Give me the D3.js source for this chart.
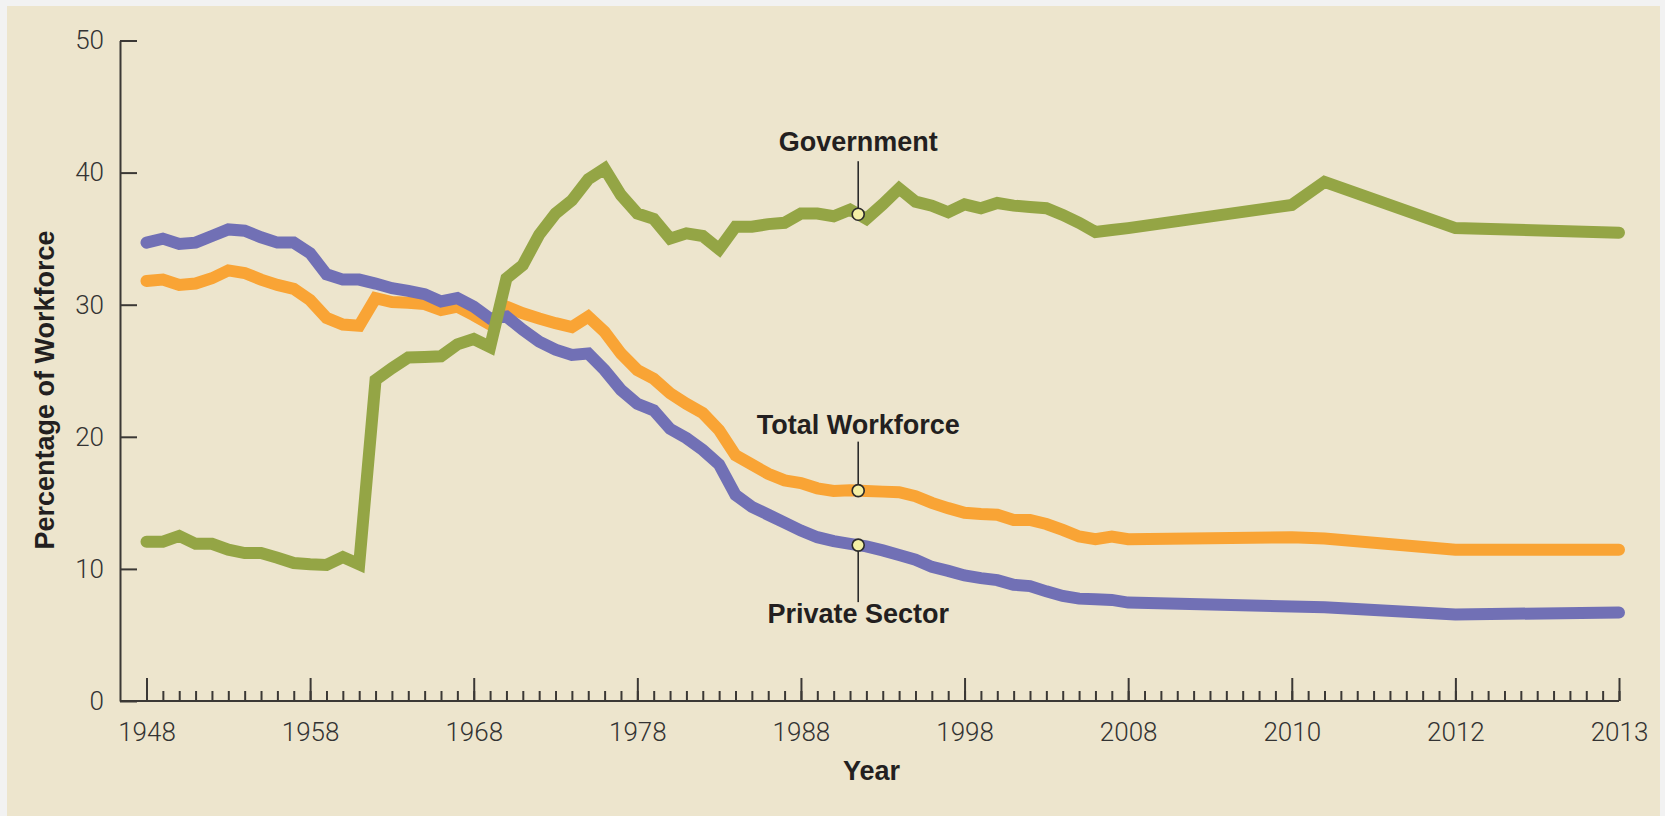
<!DOCTYPE html>
<html>
<head>
<meta charset="utf-8">
<script src="https://cdn.jsdelivr.net/npm/d3@7"></script>
<style>
  html, body { margin: 0; padding: 0; background: #f2f2f2; }
  svg { display: block; }
</style>
</head>
<body>
<svg id="chart"></svg>
<script>
// axis slots: one per year 1948-2008, then the stretched 2008-2013 part
const slots = d3.range(0, 61).concat([70, 72, 80, 90]);

const government = [12.06, 12.06, 12.5, 11.9, 11.9, 11.45, 11.2, 11.2, 10.85, 10.45,
  10.35, 10.3, 10.9, 10.35, 24.3, 25.2, 26.0, 26.05, 26.1, 27.0,
  27.4, 26.8, 32.0, 33.0, 35.3, 36.9, 37.9, 39.5, 40.3, 38.3,
  36.9, 36.5, 35.0, 35.4, 35.2, 34.2, 35.9, 35.9, 36.1, 36.2,
  36.9, 36.9, 36.7, 37.2, 36.5, 37.6, 38.8, 37.8, 37.5, 37.0,
  37.6, 37.3, 37.7, 37.5, 37.4, 37.3, 36.8, 36.2, 35.5, 35.65, 35.8,
  37.55, 39.3, 35.8, 35.45];

const totalWorkforce = [31.8, 31.9, 31.5, 31.6, 32.0, 32.6, 32.4, 31.9, 31.5, 31.2,
  30.35, 29.0, 28.5, 28.4, 30.5, 30.2, 30.15, 30.05, 29.6, 29.85,
  29.2, 28.5, 29.85, 29.35, 28.95, 28.6, 28.3, 29.1, 27.95, 26.3,
  25.05, 24.4, 23.3, 22.5, 21.8, 20.5, 18.6, 17.9, 17.2, 16.7,
  16.5, 16.1, 15.9, 15.95, 15.9, 15.85, 15.8, 15.5, 15.0, 14.6,
  14.25, 14.15, 14.1, 13.7, 13.7, 13.4, 12.95, 12.45, 12.25, 12.45, 12.25,
  12.4, 12.3, 11.45, 11.45];

const privateSector = [34.7, 35.0, 34.6, 34.7, 35.2, 35.7, 35.6, 35.1, 34.7, 34.7,
  33.9, 32.3, 31.9, 31.9, 31.6, 31.25, 31.05, 30.8, 30.25, 30.5,
  29.85, 28.95, 29.1, 28.1, 27.2, 26.6, 26.2, 26.3, 25.05, 23.55,
  22.5, 22.0, 20.6, 19.9, 19.0, 17.9, 15.6, 14.7, 14.1, 13.5,
  12.9, 12.4, 12.1, 11.9, 11.7, 11.4, 11.05, 10.7, 10.15, 9.85,
  9.5, 9.3, 9.15, 8.8, 8.7, 8.3, 7.95, 7.75, 7.7, 7.65, 7.45,
  7.15, 7.1, 6.55, 6.7];

const tickSlots = [0, 10, 20, 30, 40, 50, 60, 70, 80, 90];
const tickLabels = ["1948", "1958", "1968", "1978", "1988", "1998", "2008", "2010", "2012", "2013"];
const yTicks = [0, 10, 20, 30, 40, 50];

const W = 1665, H = 816;
const axisColor = "#3b3835";
const textColor = "#231f20";
const boldFont = "'Liberation Sans', Arial, sans-serif";

const svg = d3.select("#chart").attr("width", W).attr("height", H);

svg.append("rect")
  .attr("x", 7).attr("y", 6)
  .attr("width", 1653).attr("height", H - 6)
  .attr("fill", "#ede5cd");

const yAxisX = 120;
const x = d3.scaleLinear().domain([0, 90]).range([146.5, 1619]);
const y = d3.scaleLinear().domain([0, 50]).range([701, 40.5]);

// x axis: base line, minor ticks every slot, major ticks with labels
svg.append("line")
  .attr("x1", yAxisX).attr("x2", x(90))
  .attr("y1", y(0)).attr("y2", y(0))
  .attr("stroke", axisColor).attr("stroke-width", 2);

const minorAxis = svg.append("g")
  .attr("transform", `translate(0,${y(0)})`)
  .call(d3.axisBottom(x).tickValues(d3.range(0, 91)).tickSize(-10).tickFormat(""));
minorAxis.select(".domain").remove();

const majorAxis = svg.append("g")
  .attr("transform", `translate(0,${y(0)})`)
  .call(d3.axisBottom(x).tickValues(tickSlots).tickSize(-23).tickPadding(22)
    .tickFormat((d, i) => tickLabels[i]));
majorAxis.select(".domain").remove();

svg.selectAll(".tick line").attr("stroke", axisColor).attr("stroke-width", 2);

const yAxis = svg.append("g")
  .attr("transform", `translate(${yAxisX},0)`)
  .call(d3.axisLeft(y).tickValues(yTicks).tickSize(-17).tickSizeOuter(0).tickPadding(16));
yAxis.select(".domain").attr("stroke", axisColor).attr("stroke-width", 2);
yAxis.selectAll(".tick line").attr("stroke", axisColor).attr("stroke-width", 2);

svg.selectAll(".tick text")
  .attr("font-family", "Roboto, 'Liberation Sans', sans-serif")
  .attr("font-weight", 300)
  .attr("font-size", 26)
  .attr("fill", "#333");

// axis titles
svg.append("text")
  .attr("x", (yAxisX + x(90)) / 2 + 2).attr("y", 780)
  .attr("text-anchor", "middle")
  .attr("font-family", boldFont)
  .attr("font-weight", "bold").attr("font-size", 27)
  .attr("fill", textColor)
  .text("Year");

svg.append("text")
  .attr("transform", "translate(54,390) rotate(-90)")
  .attr("text-anchor", "middle")
  .attr("font-family", boldFont)
  .attr("font-weight", "bold").attr("font-size", 27)
  .attr("fill", textColor)
  .text("Percentage of Workforce");

// lines
const line = d3.line()
  .x((d, i) => x(slots[i]))
  .y(d => y(d));

const series = [
  { name: "Total Workforce", values: totalWorkforce, color: "#f9a435", labelDy: -57, lineFrom: -49 },
  { name: "Private Sector", values: privateSector, color: "#7170b5", labelDy: 78, lineFrom: 57 },
  { name: "Government", values: government, color: "#94a545", labelDy: -63, lineFrom: -53 }
];

svg.selectAll("path.series")
  .data(series)
  .enter()
  .append("path")
  .attr("class", "series")
  .attr("d", d => line(d.values))
  .attr("fill", "none")
  .attr("stroke", d => d.color)
  .attr("stroke-width", 12)
  .attr("stroke-linecap", "round")
  .attr("stroke-linejoin", "miter")
  .attr("stroke-miterlimit", 6);

// annotations sit on the lines between 1991 and 1992
const noteSlot = 43.5;
function valueAt(values, s) {
  let i = d3.bisectLeft(slots, s);
  if (slots[i] === s) return values[i];
  let t = (s - slots[i - 1]) / (slots[i] - slots[i - 1]);
  return values[i - 1] + t * (values[i] - values[i - 1]);
}

series.forEach(function(d) {
  let cx = x(noteSlot);
  let cy = y(valueAt(d.values, noteSlot));
  let r = 6;
  let end = d.lineFrom < 0 ? cy - r : cy + r;
  svg.append("line")
    .attr("x1", cx).attr("x2", cx)
    .attr("y1", cy + d.lineFrom).attr("y2", end)
    .attr("stroke", "#2b2b2b").attr("stroke-width", 1.6);
  svg.append("circle")
    .attr("cx", cx).attr("cy", cy).attr("r", r)
    .attr("fill", "#f4efa5")
    .attr("stroke", "#2b2b2b").attr("stroke-width", 1.6);
  svg.append("text")
    .attr("x", cx).attr("y", cy + d.labelDy)
    .attr("text-anchor", "middle")
    .attr("font-family", boldFont)
    .attr("font-weight", "bold").attr("font-size", 27)
    .attr("fill", textColor)
    .text(d.name);
});
</script>
</body>
</html>
